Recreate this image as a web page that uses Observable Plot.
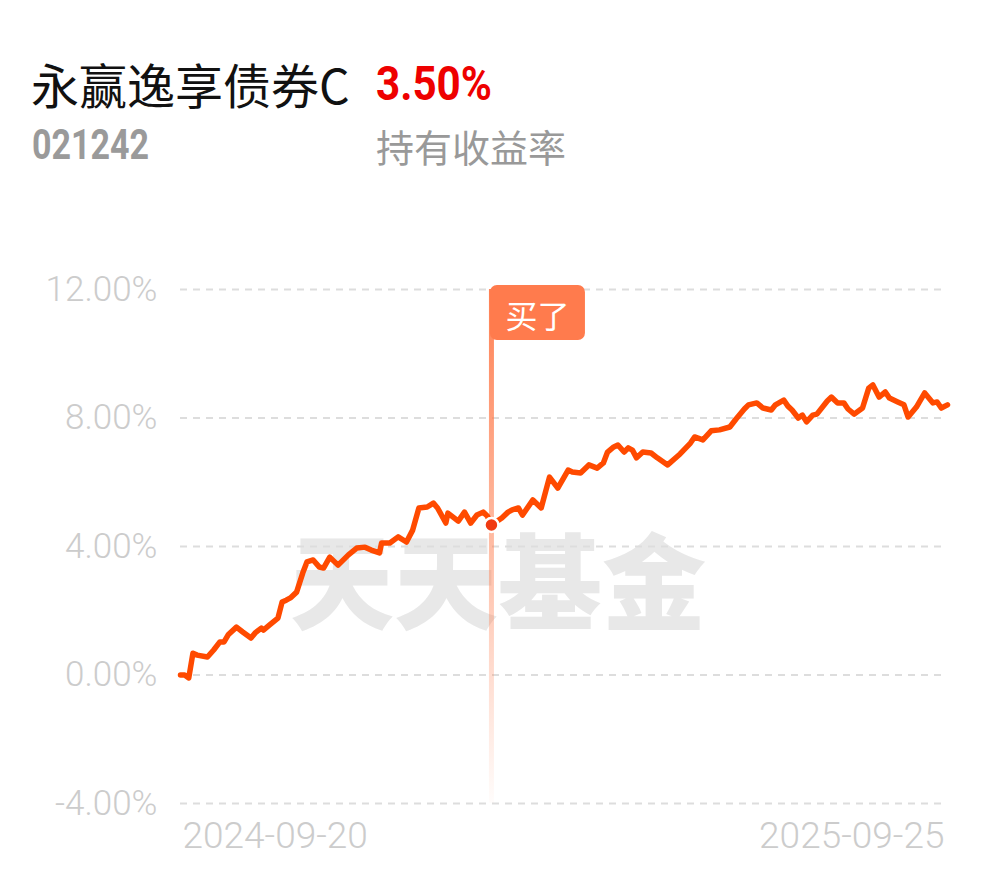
<!DOCTYPE html>
<html>
<head>
<meta charset="utf-8">
<script src="https://cdn.jsdelivr.net/npm/d3@7"></script>
<script src="https://cdn.jsdelivr.net/npm/@observablehq/plot@0.6"></script>
<style>
  body { margin: 0; background: #fff; }
  #wrap { position: relative; width: 990px; height: 878px; overflow: hidden; background: #fff; }
  #head { position: relative; height: 230px; }
  .t { position: absolute; white-space: nowrap; }
  #chart svg { display: block; }
</style>
</head>
<body>
<div id="wrap">
  <div id="head">
    <div class="t" id="fundName" style="left:31px;top:55px;font-size:48px;line-height:56px;color:#111;font-family:'Noto Sans CJK SC',sans-serif;"></div>
    <div class="t" id="holdReturn" style="left:376px;top:56px;font-size:49px;line-height:56px;color:#ee0000;font-weight:700;font-family:Roboto,sans-serif;transform:scaleX(0.86);transform-origin:0 0;"></div>
    <div class="t" id="fundCode" style="left:32px;top:120px;font-size:42px;line-height:50px;color:#9a9a9a;font-weight:700;font-family:Roboto,sans-serif;transform:scaleX(0.81);transform-origin:0 0;"></div>
    <div class="t" id="holdLabel" style="left:376px;top:122px;font-size:38px;line-height:48px;color:#999;font-family:'Noto Sans CJK SC',sans-serif;"></div>
  </div>
  <div id="chart"></div>
</div>
<script>
const fundName = "永赢逸享债券C";
const fundCode = "021242";
const holdReturn = "3.50%";
const holdLabel = "持有收益率";
const watermark = "天天基金";
const buyLabel = "买了";
const buyDate = "2025-02-17";
const buyValue = 4.67;
const yTicks = [-4, 0, 4, 8, 12];
const xTickLabels = ["2024-09-20", "2025-09-25"];

const dates = [
  "2024-09-20","2024-09-22","2024-09-24","2024-09-26","2024-09-28","2024-10-03","2024-10-06","2024-10-09",
  "2024-10-11","2024-10-13","2024-10-17","2024-10-20","2024-10-24","2024-10-26","2024-10-29","2024-10-30",
  "2024-11-02","2024-11-06","2024-11-08","2024-11-10","2024-11-12","2024-11-15","2024-11-18","2024-11-20",
  "2024-11-23","2024-11-26","2024-11-28","2024-12-01","2024-12-05","2024-12-10","2024-12-14","2024-12-18",
  "2024-12-21","2024-12-25","2024-12-26","2024-12-30","2025-01-03","2025-01-07","2025-01-10","2025-01-13",
  "2025-01-17","2025-01-20","2025-01-22","2025-01-26","2025-01-27","2025-02-01","2025-02-04","2025-02-07",
  "2025-02-10","2025-02-13","2025-02-15","2025-02-17","2025-02-22","2025-02-25","2025-02-27","2025-03-02",
  "2025-03-04","2025-03-09","2025-03-13","2025-03-17","2025-03-21","2025-03-26","2025-03-28","2025-04-01",
  "2025-04-05","2025-04-09","2025-04-12","2025-04-14","2025-04-17","2025-04-19","2025-04-22","2025-04-24",
  "2025-04-26","2025-04-28","2025-05-01","2025-05-05","2025-05-08","2025-05-13","2025-05-19","2025-05-24",
  "2025-05-26","2025-05-30","2025-06-03","2025-06-07","2025-06-12","2025-06-15","2025-06-19","2025-06-21",
  "2025-06-25","2025-06-28","2025-07-02","2025-07-04","2025-07-08","2025-07-10","2025-07-12","2025-07-15",
  "2025-07-17","2025-07-19","2025-07-22","2025-07-24","2025-07-29","2025-07-31","2025-08-03","2025-08-06",
  "2025-08-08","2025-08-11","2025-08-15","2025-08-18","2025-08-20","2025-08-23","2025-08-26","2025-08-28",
  "2025-09-01","2025-09-04","2025-09-06","2025-09-10","2025-09-14","2025-09-18","2025-09-20","2025-09-22",
  "2025-09-25"
];
const values = [
  0.00, 0.00, -0.09, 0.68, 0.62, 0.56, 0.78, 1.03,
  1.03, 1.25, 1.49, 1.34, 1.15, 1.31, 1.46, 1.40,
  1.56, 1.77, 2.27, 2.33, 2.40, 2.58, 3.18, 3.52,
  3.58, 3.36, 3.33, 3.67, 3.42, 3.74, 3.95, 3.98,
  3.89, 3.80, 4.11, 4.11, 4.30, 4.14, 4.51, 5.20,
  5.23, 5.35, 5.20, 4.73, 5.04, 4.79, 5.07, 4.73,
  4.98, 5.07, 4.95, 4.67, 4.89, 5.07, 5.14, 5.20,
  4.98, 5.45, 5.20, 6.16, 5.82, 6.38, 6.32, 6.29,
  6.54, 6.44, 6.60, 6.94, 7.10, 7.16, 6.94, 7.07,
  7.00, 6.76, 6.94, 6.91, 6.76, 6.54, 6.88, 7.22,
  7.41, 7.32, 7.60, 7.63, 7.72, 7.97, 8.28, 8.41,
  8.47, 8.31, 8.25, 8.41, 8.56, 8.37, 8.25, 8.00,
  8.09, 7.88, 8.09, 8.12, 8.53, 8.65, 8.47, 8.47,
  8.28, 8.12, 8.31, 8.93, 9.03, 8.65, 8.81, 8.62,
  8.50, 8.41, 8.03, 8.34, 8.78, 8.47, 8.50, 8.31,
  8.41
];

document.getElementById("fundName").textContent = fundName;
document.getElementById("fundCode").textContent = fundCode;
document.getElementById("holdReturn").textContent = holdReturn;
document.getElementById("holdLabel").textContent = holdLabel;

const parse = d3.utcParse("%Y-%m-%d");
const series = dates.map((d, i) => ({date: parse(d), value: values[i]}));
const buy = [{date: parse(buyDate), value: buyValue}];

const W = 990, H = 648, mt = 59, mb = 75, ml = 180, mr = 43;
const frameH = H - mt - mb;

const chart = Plot.plot({
  width: W, height: H,
  marginTop: mt, marginBottom: mb, marginLeft: ml, marginRight: mr,
  style: {fontFamily: "Roboto, 'Noto Sans', sans-serif", background: "white", overflow: "visible"},
  x: {type: "utc", domain: [parse(xTickLabels[0]), parse(xTickLabels[1])], axis: null},
  y: {domain: [yTicks[0], yTicks[yTicks.length - 1]], axis: null},
  marks: [
    Plot.text([watermark], {frameAnchor: "middle", dx: -66, dy: 42, text: d => d, fontSize: 104, fontWeight: 900,
      fill: "#e8e8e8", fontFamily: "'Noto Sans CJK SC', sans-serif"}),
    Plot.gridY(yTicks, {stroke: "#dddddd", strokeOpacity: 1, strokeWidth: 2, strokeDasharray: "7,6"}),
    Plot.axisY(yTicks, {label: null, tickSize: 0, tickPadding: 23, tickFormat: d => d.toFixed(2) + "%", fontSize: 35,
      fill: "#cccccc", fontWeight: 300}),
    Plot.text([xTickLabels[0]], {x: d => parse(d), frameAnchor: "bottom", textAnchor: "start", dx: 2, dy: 44,
      text: d => d, fontSize: 37, fill: "#cccccc", fontWeight: 300}),
    Plot.text([xTickLabels[1]], {x: d => parse(d), frameAnchor: "bottom", textAnchor: "end", dx: -3, dy: 44,
      text: d => d, fontSize: 37, fill: "#cccccc", fontWeight: 300}),
    Plot.ruleX(buy, {x: "date", stroke: "url(#buyGrad)", strokeWidth: 5}),
    Plot.lineY(series, {x: "date", y: "value", stroke: "#ff4a00", strokeWidth: 5.5,
      strokeLinejoin: "round", strokeLinecap: "round"}),
    Plot.dot(buy, {x: "date", y: "value", r: 7, fill: "#f03a12", stroke: "white", strokeWidth: 2.5}),
    Plot.rect(buy, {x1: "date", x2: "date", insetLeft: -1, insetRight: -94, insetTop: -4, insetBottom: frameH - 51,
      rx: 7, fill: "#ff7b4d"}),
    Plot.text(buy, {x: "date", frameAnchor: "top", dx: 46, dy: 16, text: () => buyLabel, fontSize: 32,
      fill: "white", fontFamily: "'Noto Sans CJK SC', sans-serif"})
  ]
});

const grad = d3.select(chart).insert("defs", ":first-child")
  .append("linearGradient").attr("id", "buyGrad").attr("gradientUnits", "userSpaceOnUse")
  .attr("x1", 0).attr("x2", 0).attr("y1", mt).attr("y2", H - mb);
grad.append("stop").attr("offset", 0).attr("stop-color", "#ff7a4a").attr("stop-opacity", 0.95);
grad.append("stop").attr("offset", 0.5).attr("stop-color", "#ff7a4a").attr("stop-opacity", 0.5);
grad.append("stop").attr("offset", 1).attr("stop-color", "#ff7a4a").attr("stop-opacity", 0.02);

document.getElementById("chart").appendChild(chart);
</script>
</body>
</html>
